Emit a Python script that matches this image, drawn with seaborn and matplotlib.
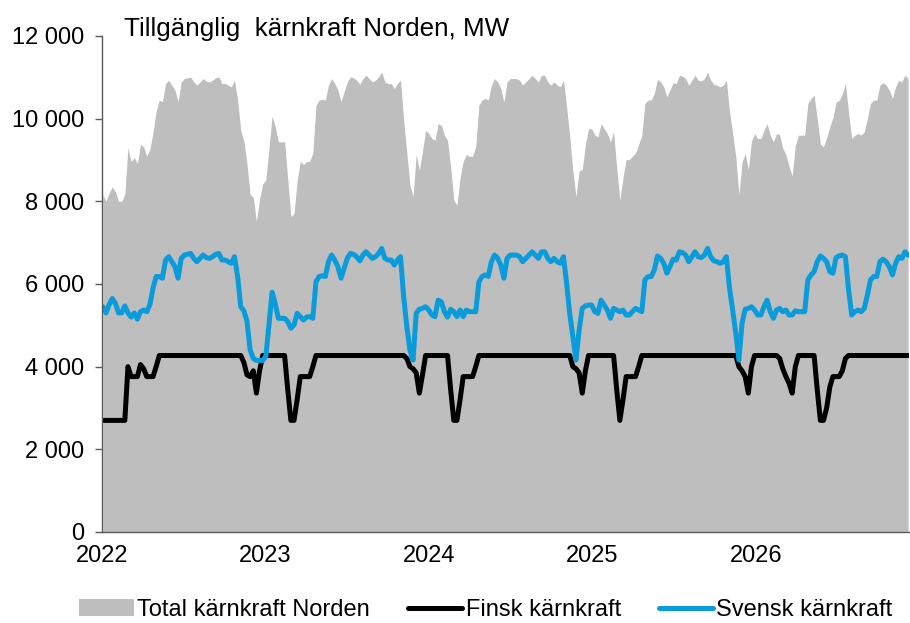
import pandas as pd
import seaborn as sns
import matplotlib.pyplot as plt
import matplotlib.dates as mdates
from matplotlib.ticker import FuncFormatter, MultipleLocator
from matplotlib.patches import Patch
from matplotlib.lines import Line2D

# Weekly availability, MW
weeks = pd.date_range('2022-01-03', periods=258, freq='7D')

svensk = [
    5450, 5300, 5500, 5650, 5530, 5300, 5300, 5470, 5300, 5200,
    5300, 5150, 5330, 5370, 5330, 5500, 5900, 6180, 6180, 6140,
    6580, 6660, 6540, 6420, 6140, 6620, 6700, 6720, 6740, 6620,
    6540, 6620, 6700, 6640, 6620, 6660, 6720, 6740, 6580, 6580,
    6540, 6500, 6660, 6180, 5450, 5350, 5100, 4400, 4200, 4150,
    4150, 4150, 4250, 5000, 5800, 5530, 5170, 5170, 5170, 5090,
    4930, 5010, 5290, 5210, 5130, 5200, 5210, 5170, 6050, 6180,
    6200, 6180, 6540, 6700, 6580, 6420, 6140, 6380, 6620, 6740,
    6720, 6660, 6560, 6700, 6780, 6700, 6620, 6660, 6740, 6860,
    6620, 6580, 6580, 6460, 6580, 6660, 5690, 4970, 4400, 4160,
    5290, 5390, 5410, 5450, 5370, 5250, 5210, 5610, 5570, 5330,
    5200, 5390, 5330, 5210, 5370, 5210, 5370, 5330, 5330, 5330,
    6050, 6180, 6220, 6180, 6540, 6700, 6620, 6460, 6140, 6620,
    6700, 6700, 6700, 6660, 6540, 6620, 6700, 6780, 6700, 6620,
    6780, 6780, 6620, 6540, 6620, 6540, 6500, 6660, 6020, 5290,
    4730, 4160, 4890, 5410, 5470, 5490, 5490, 5330, 5290, 5610,
    5490, 5370, 5170, 5410, 5370, 5330, 5370, 5250, 5250, 5330,
    5410, 5370, 5330, 6100, 6180, 6180, 6340, 6680, 6620, 6500,
    6260, 6420, 6600, 6580, 6780, 6760, 6700, 6540, 6660, 6780,
    6660, 6640, 6700, 6860, 6660, 6560, 6540, 6500, 6540, 6660,
    5900, 5370, 4810, 4160, 5050, 5390, 5410, 5450, 5370, 5250,
    5250, 5450, 5610, 5330, 5170, 5370, 5410, 5330, 5370, 5250,
    5250, 5350, 5330, 5330, 5330, 6100, 6220, 6300, 6540, 6680,
    6620, 6540, 6300, 6260, 6640, 6680, 6700, 6660, 5860, 5250,
    5330, 5370, 5330, 5410, 5730, 6100, 6180, 6180, 6540, 6600,
    6540, 6420, 6220, 6500, 6660, 6620, 6780, 6700,
]

finsk = (
    [2700] * 8 + [4000] + [3760] * 3 + [4050, 3950] + [3760] * 3 + [4000]
    + [4270] * 27
    + [4100, 3800, 3760, 3900, 3360, 3900, 4270]
    + [4270] * 7
    + [3440, 2700, 2700, 3200, 3760, 3760, 3760, 3760, 4000, 4270]
    + [4270] * 28
    + [4200, 4000, 3950, 3850, 3360, 3800, 4270]
    + [4270] * 7
    + [3440, 2700, 2700, 3200, 3760, 3760, 3760, 3760, 4000, 4270]
    + [4270] * 29
    + [4000, 3950, 3850, 3360, 3900, 4270]
    + [4270] * 8
    + [3440, 2700, 3200, 3760, 3760, 3760, 3760, 4000, 4270]
    + [4270] * 30
    + [4000, 3900, 3760, 3360, 4000, 4270]
    + [4270] * 7
    + [4200, 3950, 3760, 3600, 3360, 4000, 4270]
    + [4270] * 5
    + [3440, 2700, 2700, 3000, 3500, 3760, 3760, 3760, 3900, 4200]
    + [4270] * 20
)

# total Nordic nuclear = Finnish + Swedish
total = [f + s for f, s in zip(finsk, svensk)]

df = pd.DataFrame({'vecka': weeks, 'finsk': finsk, 'svensk': svensk, 'total': total})

sns.set_theme(style='white')
plt.rcParams['font.family'] = ['Liberation Sans', 'DejaVu Sans']
plt.rcParams['text.color'] = 'black'

fig = plt.figure(figsize=(9.1, 6.23), dpi=100)
ax = fig.add_axes([102 / 910, 91 / 623, 807 / 910, 496 / 623])

ax.fill_between(df['vecka'], 0, df['total'], color='#bebebe', lw=0)
sns.lineplot(data=df, x='vecka', y='finsk', ax=ax, color='black', lw=3.6)
sns.lineplot(data=df, x='vecka', y='svensk', ax=ax, color='#0a9bdb', lw=3.6)

ax.set_xlim(pd.Timestamp('2022-01-01'), pd.Timestamp('2026-12-09'))
ax.set_ylim(0, 12000)
ax.yaxis.set_major_locator(MultipleLocator(2000))
ax.yaxis.set_major_formatter(FuncFormatter(lambda v, p: f'{v:,.0f}'.replace(',', ' ')))
ax.xaxis.set_major_locator(mdates.YearLocator())
ax.xaxis.set_major_formatter(mdates.DateFormatter('%Y'))
ax.set_xlabel('')
ax.set_ylabel('')

for side in ['top', 'right']:
    ax.spines[side].set_visible(False)
for side in ['left', 'bottom']:
    ax.spines[side].set_color('#595959')
    ax.spines[side].set_linewidth(1.0)

ax.tick_params(axis='y', left=True, length=5, width=1, color='#595959', pad=8,
               labelsize=17, labelcolor='black')
ax.tick_params(axis='x', bottom=False, length=0, pad=9, labelsize=17, labelcolor='black')

fig.text(124 / 910, 1 - 36 / 623, 'Tillgänglig  kärnkraft Norden, MW',
         fontsize=18.7, va='baseline', ha='left', color='black')

handles = [
    Patch(facecolor='#bebebe', edgecolor='none'),
    Line2D([], [], color='black', lw=3.6),
    Line2D([], [], color='#0a9bdb', lw=3.6),
]
labels = ['Total kärnkraft Norden', 'Finsk kärnkraft', 'Svensk kärnkraft']
fig.legend(handles, labels, loc='center', bbox_to_anchor=(486 / 910, 13 / 623),
           ncol=3, frameon=False, fontsize=17, handlelength=2.3,
           handletextpad=0.15, columnspacing=1.6, labelcolor='black')

fig.savefig('out.png', dpi=100)
